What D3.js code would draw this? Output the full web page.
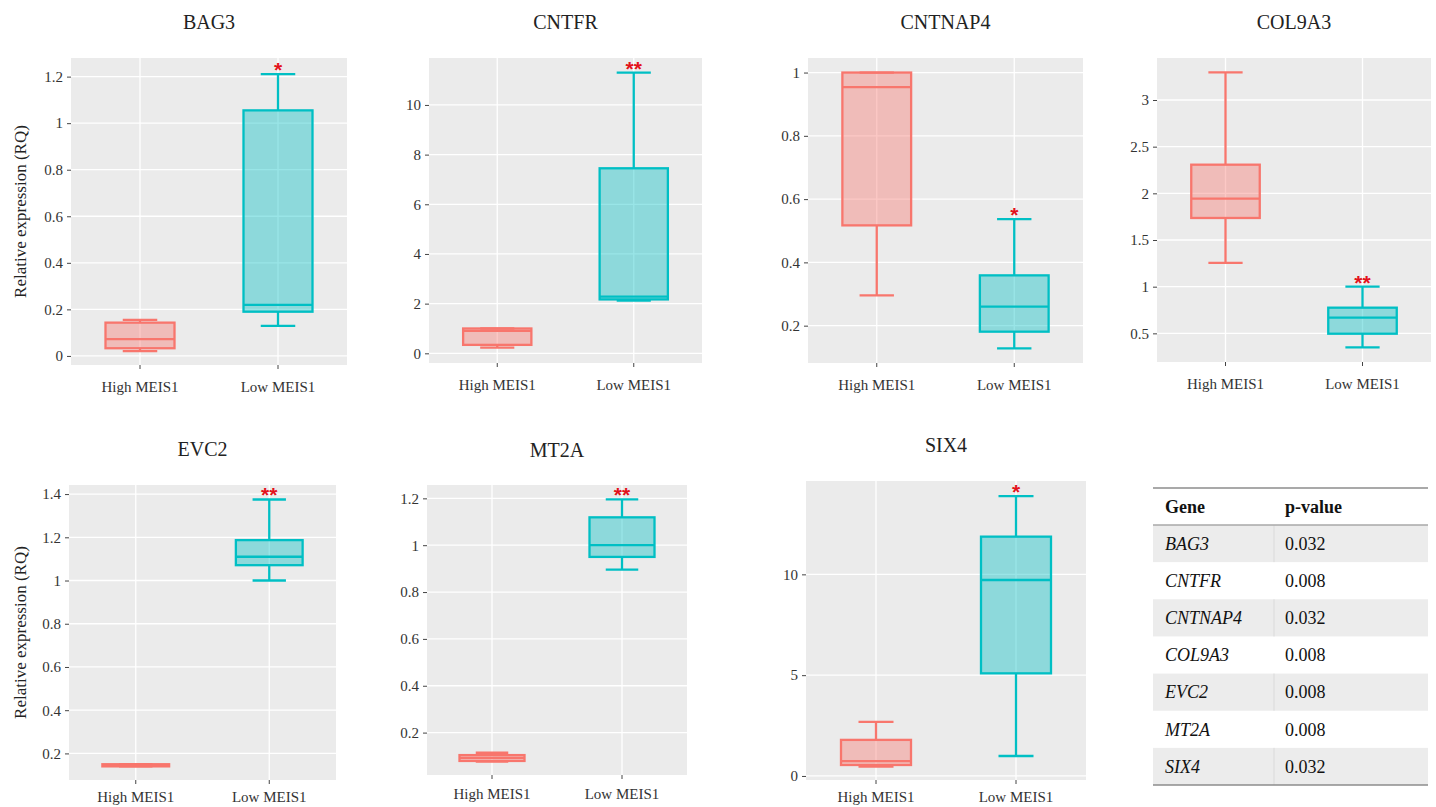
<!DOCTYPE html>
<html>
<head>
<meta charset="utf-8">
<script src="https://cdn.jsdelivr.net/npm/d3@7"></script>
<style>
  html, body { margin: 0; padding: 0; background: #ffffff; }
  svg { display: block; font-family: "Liberation Serif", "Times New Roman", serif; }
</style>
</head>
<body>
<svg id="chart" width="1436" height="807"></svg>
<script>
// --- data ---
const genes = ["BAG3", "CNTFR", "CNTNAP4", "COL9A3", "EVC2", "MT2A", "SIX4"];
const groups = ["High MEIS1", "Low MEIS1"];

// five-number summaries: [whisker min, q1, median, q3, whisker max]
const highStats = [
  [0.021, 0.033, 0.072, 0.143, 0.155],
  [0.23, 0.34, 0.9, 1.0, 1.0],
  [0.296, 0.517, 0.954, 1.0, 1.0],
  [1.254, 1.736, 1.943, 2.307, 3.296],
  [0.14, 0.14, 0.145, 0.15, 0.15],
  [0.076, 0.079, 0.092, 0.104, 0.114],
  [0.46, 0.545, 0.74, 1.79, 2.68]
];
const lowStats = [
  [0.129, 0.19, 0.219, 1.055, 1.211],
  [2.12, 2.17, 2.28, 7.45, 11.3],
  [0.128, 0.181, 0.26, 0.359, 0.537],
  [0.35, 0.496, 0.668, 0.775, 1.0],
  [1.0, 1.071, 1.11, 1.187, 1.375],
  [0.896, 0.95, 1.0, 1.119, 1.196],
  [0.99, 5.09, 9.72, 11.87, 13.88]
];

const yDomains = [
  [-0.039, 1.28], [-0.39, 11.89], [0.082, 1.046], [0.193, 3.45],
  [0.077, 1.442], [0.019, 1.257], [-0.2, 14.63]
];
const yTicks = [
  [0, 0.2, 0.4, 0.6, 0.8, 1, 1.2],
  [0, 2, 4, 6, 8, 10],
  [0.2, 0.4, 0.6, 0.8, 1],
  [0.5, 1, 1.5, 2, 2.5, 3],
  [0.2, 0.4, 0.6, 0.8, 1, 1.2, 1.4],
  [0.2, 0.4, 0.6, 0.8, 1, 1.2],
  [0, 5, 10]
];
const stars = ["*", "**", "*", "**", "**", "**", "*"];
const pValues = ["0.032", "0.008", "0.032", "0.008", "0.008", "0.008", "0.032"];

// --- layout (panel frames: left, top, right, bottom; title baseline; x label gap) ---
const frames = [
  { l: 71, t: 58, r: 347, b: 365, title: 29, gap: 12 },
  { l: 429, t: 58, r: 702, b: 363, title: 29, gap: 12 },
  { l: 808, t: 58, r: 1083, b: 363, title: 29, gap: 12 },
  { l: 1157, t: 58, r: 1431, b: 362, title: 29, gap: 12 },
  { l: 69, t: 485, r: 336, b: 780, title: 456, gap: 7 },
  { l: 427, t: 485, r: 687, b: 775, title: 457, gap: 9 },
  { l: 806, t: 481, r: 1086, b: 780, title: 452, gap: 7 }
];
const yTitleOn = [true, false, false, false, true, false, false];

const COLORS = ["#F8766D", "#00BFC4"];
const PANEL_BG = "#ebebeb";
const TEXT = "#333";

const svg = d3.select("#chart");
const fmt = d3.format("~g");

genes.forEach((gene, i) => {
  const f = frames[i];
  const w = f.r - f.l, h = f.b - f.t;
  const g = svg.append("g").attr("transform", `translate(${f.l},${f.t})`);

  const x = d3.scaleBand().domain(groups).range([0, w]).padding(0);
  const y = d3.scaleLinear().domain(yDomains[i]).range([h, 0]);

  g.append("rect").attr("width", w).attr("height", h).attr("fill", PANEL_BG);

  // grid
  g.selectAll(".hgrid").data(yTicks[i]).enter().append("line")
    .attr("x1", 0).attr("x2", w)
    .attr("y1", d => y(d)).attr("y2", d => y(d))
    .attr("stroke", "#fff").attr("stroke-width", 1.3);
  g.selectAll(".vgrid").data(groups).enter().append("line")
    .attr("x1", d => x(d) + x.bandwidth() / 2).attr("x2", d => x(d) + x.bandwidth() / 2)
    .attr("y1", 0).attr("y2", h)
    .attr("stroke", "#fff").attr("stroke-width", 1.3);

  // axes
  const ya = g.append("g")
    .call(d3.axisLeft(y).tickValues(yTicks[i]).tickSize(4).tickPadding(4).tickFormat(fmt));
  const xa = g.append("g").attr("transform", `translate(0,${h})`)
    .call(d3.axisBottom(x).tickSize(4).tickPadding(f.gap));
  [ya, xa].forEach(a => {
    a.select(".domain").remove();
    a.selectAll(".tick line").attr("stroke", "#444").attr("stroke-width", 1);
    a.selectAll(".tick text").attr("fill", TEXT)
      .style("font-family", "'Liberation Serif', serif").style("font-size", "15px");
  });

  // boxes
  const stats = [highStats[i], lowStats[i]];
  const bw = x.bandwidth() * 0.5, cap = x.bandwidth() * 0.25;
  stats.forEach((s, k) => {
    const cx = x(groups[k]) + x.bandwidth() / 2;
    const col = COLORS[k];
    const bg = g.append("g").attr("stroke", col).attr("stroke-width", 2.3).attr("fill", "none");
    bg.append("line").attr("x1", cx).attr("x2", cx).attr("y1", y(s[3])).attr("y2", y(s[4]));
    bg.append("line").attr("x1", cx).attr("x2", cx).attr("y1", y(s[1])).attr("y2", y(s[0]));
    bg.append("line").attr("x1", cx - cap / 2).attr("x2", cx + cap / 2).attr("y1", y(s[4])).attr("y2", y(s[4]));
    bg.append("line").attr("x1", cx - cap / 2).attr("x2", cx + cap / 2).attr("y1", y(s[0])).attr("y2", y(s[0]));
    bg.append("rect")
      .attr("x", cx - bw / 2).attr("width", bw)
      .attr("y", y(s[3])).attr("height", Math.max(1, y(s[1]) - y(s[3])))
      .attr("fill", col).attr("fill-opacity", 0.4);
    bg.append("line").attr("x1", cx - bw / 2).attr("x2", cx + bw / 2).attr("y1", y(s[2])).attr("y2", y(s[2]));
  });

  // significance stars above the low group
  g.append("text")
    .attr("x", x(groups[1]) + x.bandwidth() / 2)
    .attr("y", y(lowStats[i][4]) + 3)
    .attr("text-anchor", "middle")
    .attr("fill", "#e3121b")
    .style("font-family", "'Liberation Sans', sans-serif")
    .style("font-weight", "bold").style("font-size", "21px")
    .text(stars[i]);

  // title
  svg.append("text")
    .attr("x", f.l + w / 2).attr("y", f.title)
    .attr("text-anchor", "middle").attr("fill", "#222")
    .style("font-size", "20px").text(gene);

  if (yTitleOn[i]) {
    svg.append("text")
      .attr("transform", `translate(26,${f.t + h / 2}) rotate(-90)`)
      .attr("text-anchor", "middle").attr("fill", "#222")
      .style("font-size", "17px").text("Relative expression (RQ)");
  }
});

// --- p-value table ---
const tbl = { l: 1153, mid: 1274, r: 1428, top: 488, head: 525, bottom: 785 };
const t = svg.append("g");
const rowY = d3.scaleBand().domain(genes).range([tbl.head, tbl.bottom]);

t.selectAll(".shade").data(genes.filter((d, k) => k % 2 === 0)).enter().append("rect")
  .attr("x", tbl.l).attr("width", tbl.r - tbl.l)
  .attr("y", d => rowY(d)).attr("height", rowY.bandwidth())
  .attr("fill", "#ececec");
t.selectAll(".div").data(genes.filter((d, k) => k % 2 === 0)).enter().append("line")
  .attr("x1", tbl.mid).attr("x2", tbl.mid)
  .attr("y1", d => rowY(d)).attr("y2", d => rowY(d) + rowY.bandwidth())
  .attr("stroke", "#dadada").attr("stroke-width", 1);

[[tbl.top, "#8c8c8c", 1.6], [tbl.head, "#a8a8a8", 1.4], [tbl.bottom, "#8c8c8c", 1.6]].forEach(([yy, c, sw]) => {
  t.append("line").attr("x1", tbl.l).attr("x2", tbl.r).attr("y1", yy).attr("y2", yy)
    .attr("stroke", c).attr("stroke-width", sw);
});

const headMid = (tbl.top + tbl.head) / 2;
t.append("text").attr("x", tbl.l + 12).attr("y", headMid).attr("dy", "0.35em")
  .attr("fill", "#111").style("font-weight", "bold").style("font-size", "18px").text("Gene");
t.append("text").attr("x", tbl.mid + 11).attr("y", headMid).attr("dy", "0.35em")
  .attr("fill", "#111").style("font-weight", "bold").style("font-size", "18px").text("p-value");

t.selectAll(".gname").data(genes).enter().append("text")
  .attr("x", tbl.l + 12).attr("y", d => rowY(d) + rowY.bandwidth() / 2).attr("dy", "0.35em")
  .attr("fill", "#111").style("font-style", "italic").style("font-size", "18px")
  .text(d => d);
t.selectAll(".pval").data(pValues).enter().append("text")
  .attr("x", tbl.mid + 11).attr("y", (d, k) => rowY(genes[k]) + rowY.bandwidth() / 2).attr("dy", "0.35em")
  .attr("fill", "#111").style("font-size", "18px")
  .text(d => d);
</script>
</body>
</html>
